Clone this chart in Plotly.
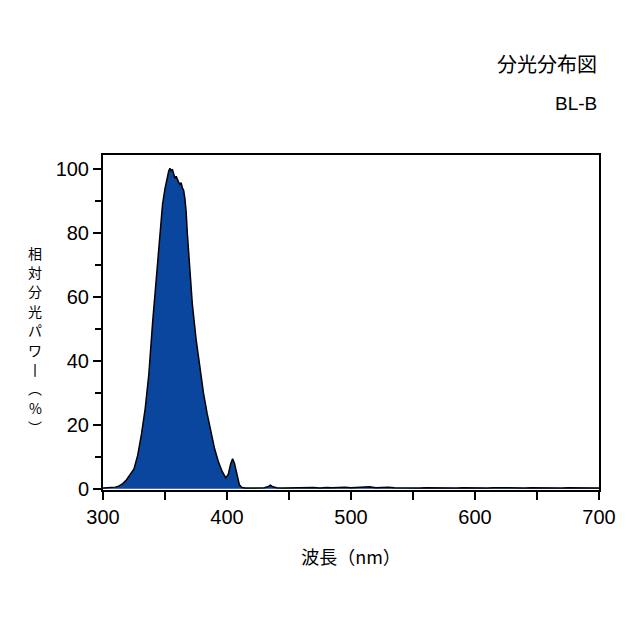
import plotly.graph_objects as go

wavelength = [300, 305, 310, 313, 316, 319, 322, 325, 328, 331, 334, 337, 340, 343, 346, 348,
              350, 352, 353, 354, 355, 356, 357, 358, 359, 360, 361, 362, 363, 364, 365, 366,
              367, 368, 370, 372, 375, 378, 381, 384, 387, 390, 393, 396, 399, 401, 403, 404.5,
              406, 408, 410, 412, 415, 420, 425, 430, 433, 435, 437, 440,
              445, 450, 455, 460, 465, 470, 475, 480, 485, 490, 495, 500, 505, 510, 515, 520,
              525, 530, 535, 540, 545, 550, 555, 560, 565, 570, 575, 580, 585, 590, 595, 600,
              605, 610, 615, 620, 625, 630, 635, 640, 645, 650, 655, 660, 665, 670, 675, 680,
              685, 690, 695, 700]
power = [0.2, 0.3, 0.5, 0.9, 1.6, 2.8, 4.4, 6.2, 10.5, 17, 25, 36, 52, 66, 80, 89,
         94, 98, 99.5, 100.3, 99.6, 100, 98.5, 97.2, 97.8, 96.5, 96.0, 95.3, 95.8, 94.2, 93.5, 91,
         87, 80, 68, 58, 47, 38, 30, 23.5, 17.5, 12.5, 8.5, 5.5, 3.4, 4.5, 7.8, 9.4,
         8, 5, 1.2, 0.4, 0.2, 0.2, 0.25, 0.3, 0.6, 1.1, 0.6, 0.3,
         0.2, 0.25, 0.2, 0.3, 0.25, 0.35, 0.25, 0.4, 0.3, 0.35, 0.5, 0.3, 0.45, 0.4, 0.6, 0.3,
         0.45, 0.5, 0.3, 0.25, 0.35, 0.3, 0.25, 0.3, 0.25, 0.35, 0.25, 0.3, 0.25, 0.3, 0.25, 0.35,
         0.3, 0.25, 0.3, 0.25, 0.3, 0.25, 0.3, 0.25, 0.3, 0.25, 0.3, 0.25, 0.3, 0.25, 0.3, 0.25,
         0.3, 0.25, 0.3, 0.25]

x_ticks = [300, 400, 500, 600, 700]
y_ticks = [0, 20, 40, 60, 80, 100]
title_main = "分光分布図"
title_sub = "BL-B"
x_title = "波長（nm）"
y_title_chars = ["相", "対", "分", "光", "パ", "ワ", "丨", "︵", "%", "︶"]

FONT = "Liberation Sans, Arial, Noto Sans CJK JP, sans-serif"
CJK = "Noto Sans CJK JP"

fig = go.Figure()
fig.add_trace(go.Scatter(
    x=wavelength, y=power, mode="lines",
    line=dict(color="black", width=1.5),
    fill="tozeroy", fillcolor="#0a469e",
    hoverinfo="skip", showlegend=False,
))

axis_common = dict(
    showline=True, linecolor="black", linewidth=2, mirror=True,
    showgrid=False, zeroline=False,
    ticks="outside", ticklen=8, tickwidth=1.5, tickcolor="black",
    tickfont=dict(family=FONT, size=20, color="black"),
)

annotations = [
    dict(text=title_main, xref="paper", yref="paper", x=1, y=1, xanchor="right", yanchor="middle",
         yshift=92, showarrow=False, font=dict(family=CJK, size=20, color="black")),
    dict(text=title_sub, xref="paper", yref="paper", x=1, y=1, xanchor="right", yanchor="middle",
         yshift=52, showarrow=False, font=dict(family=FONT, size=19, color="black")),
]
pitch = 19.4
for i, ch in enumerate(y_title_chars):
    annotations.append(dict(
        text=ch, xref="paper", yref="paper", x=0, y=0.5, xanchor="center", yanchor="middle",
        xshift=-68, yshift=70 - pitch * i, showarrow=False, borderpad=0,
        font=dict(family=CJK, size=14, color="black"),
    ))

fig.update_layout(
    width=640, height=640,
    margin=dict(l=95, r=49, t=147, b=158),
    paper_bgcolor="white", plot_bgcolor="white",
    font=dict(family=FONT, color="black"),
    xaxis=dict(range=[300, 700], tickvals=x_ticks,
               minor=dict(dtick=50, ticks="outside", ticklen=8, tickwidth=1.5, tickcolor="black"),
               title=dict(text=x_title, font=dict(family=CJK, size=18), standoff=24),
               **axis_common),
    yaxis=dict(range=[-0.4, 104.5], tickvals=y_ticks,
               minor=dict(dtick=10, ticks="outside", ticklen=6, tickwidth=1.5, tickcolor="black"),
               **axis_common),
    annotations=annotations,
)

fig.write_html("out.html")
